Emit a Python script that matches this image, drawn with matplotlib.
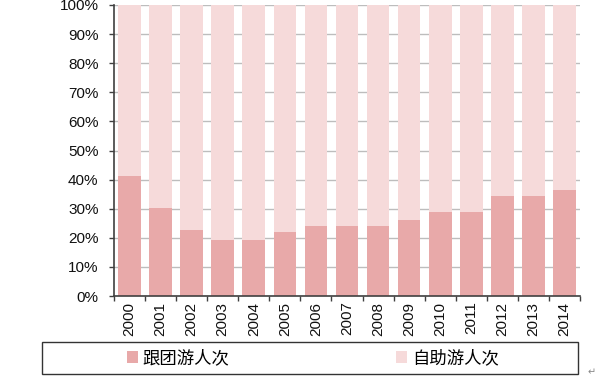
import numpy as np
import matplotlib
matplotlib.use("Agg")
from matplotlib import pyplot as plt
from matplotlib.patches import Rectangle
from matplotlib.ticker import FuncFormatter, MultipleLocator

years = ["2000", "2001", "2002", "2003", "2004", "2005", "2006", "2007",
         "2008", "2009", "2010", "2011", "2012", "2013", "2014"]
group_share = [41.1, 30.1, 22.6, 19.3, 19.3, 21.9, 24.2, 24.2,
               23.9, 26.0, 28.9, 28.9, 34.2, 34.2, 36.5]  # 跟团游人次 (%)
self_share = [100 - v for v in group_share]  # 自助游人次 (%)
series_names = ["跟团游人次", "自助游人次"]

dark_pink = "#E8A9A9"
light_pink = "#F6DADA"

fig = plt.figure(figsize=(6.0, 3.82), dpi=100)
ax = fig.add_axes([114 / 600, 1 - 296 / 382, 466 / 600, 291 / 382])

x = np.arange(len(years))
ax.bar(x, group_share, width=0.73, color=dark_pink, label=series_names[0], zorder=2)
ax.bar(x, self_share, width=0.73, bottom=group_share, color=light_pink,
       label=series_names[1], zorder=2)

ax.set_xlim(-0.5, len(years) - 0.5)
ax.set_ylim(0, 100)
ax.yaxis.set_major_locator(MultipleLocator(10))
ax.yaxis.set_major_formatter(FuncFormatter(lambda v, p: f"{v:.0f}%"))
ax.yaxis.grid(True, color="#BDBDBD", linewidth=1.0, zorder=0)
ax.set_axisbelow(True)

# category labels at centres, tick marks at the boundaries
ax.set_xticks(x)
ax.set_xticklabels(years, rotation=90, fontsize=11, family="Liberation Sans", color="#111111")
ax.set_xticks(np.arange(len(years) + 1) - 0.5, minor=True)
ax.tick_params(axis="x", which="major", length=0, pad=4)
ax.tick_params(axis="x", which="minor", length=3.6, width=1, color="#404040", direction="out")
ax.tick_params(axis="y", length=3.6, width=1, color="#404040", direction="out",
               labelsize=11, labelcolor="#111111", pad=7.5)
for lbl in ax.get_yticklabels():
    lbl.set_family("Liberation Sans")

for side in ["top", "right"]:
    ax.spines[side].set_visible(False)
for side in ["left", "bottom"]:
    ax.spines[side].set_color("#404040")
    ax.spines[side].set_linewidth(1.2)

# legend box under the chart
fig.patches.append(Rectangle((42 / 600, 1 - 374 / 382), 536 / 600, 32 / 382,
                             transform=fig.transFigure, fill=False,
                             edgecolor="#333333", linewidth=1.0))
fig.legend(loc="center left", bbox_to_anchor=(111 / 600, 1 - 358 / 382),
           ncol=2, frameon=False, handlelength=0.64, handleheight=0.64,
           handletextpad=0.28, columnspacing=9.58,
           prop={"family": ["Noto Sans CJK SC", "DejaVu Sans"], "size": 12.5})

fig.text(592 / 600, 1 - 372 / 382, "↵", fontsize=7, color="#888888",
         ha="center", va="center", family="DejaVu Sans")

fig.savefig("out.png", dpi=100)
